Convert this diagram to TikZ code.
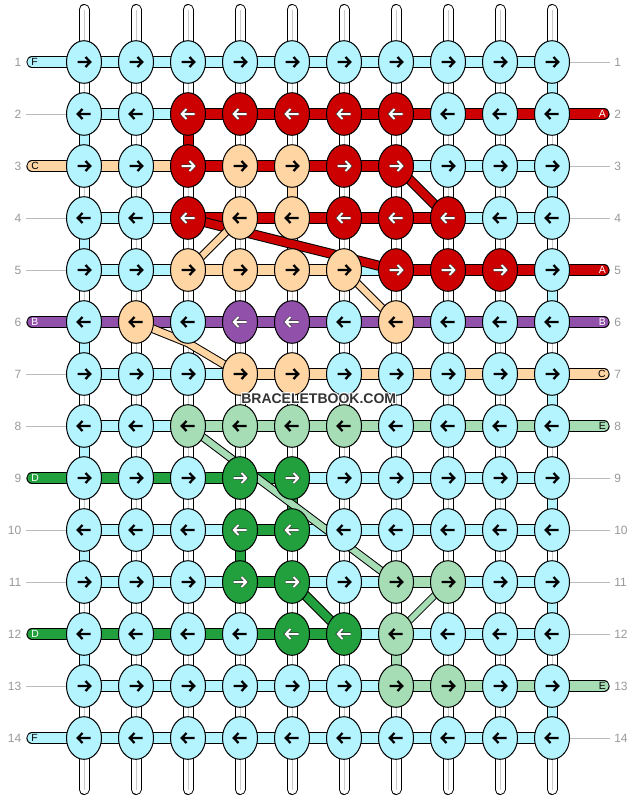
\documentclass[tikz,border=0pt]{standalone}
\usepackage{fontspec}
\setmainfont{Liberation Sans}
\usetikzlibrary{shapes.geometric}
\definecolor{bbc}{HTML}{B3F4FF}
\definecolor{bbr}{HTML}{CC0000}
\definecolor{bbp}{HTML}{FFD5A3}
\definecolor{bbu}{HTML}{9150AA}
\definecolor{bbl}{HTML}{A6DDB4}
\definecolor{bbg}{HTML}{22A03E}
\definecolor{numgray}{HTML}{999999}
\definecolor{linegray}{HTML}{BBBBBB}
\definecolor{centregray}{HTML}{C8C8C8}
\definecolor{wmark}{HTML}{333333}
\tikzset{
  knot/.style={ellipse, draw=black, line width=0.75pt, minimum width=26.25pt, minimum height=31.95pt, inner sep=0pt, outer sep=0pt},
  strout/.style={line width=8.5pt, draw=black, line cap=round},
  strin/.style={line width=7pt, line cap=round},
  bgout/.style={line width=8.25pt, draw=black, line cap=round},
  bgin/.style={line width=6.75pt, draw=white, line cap=round},
  vsegout/.style={line width=8.25pt, draw=black},
  vsegin/.style={line width=6.75pt},
  grayline/.style={draw=linegray, line width=0.75pt},
  darr/.style={draw=black, line width=1.65pt},
  larr/.style={draw=white, line width=1.5pt, preaction={draw=black!80, line width=2.4pt}},
  arr-c/.style={darr}, arr-p/.style={darr}, arr-l/.style={darr},
  arr-r/.style={larr}, arr-u/.style={larr}, arr-g/.style={larr},
  lab/.style={inner sep=0pt, font=\fontsize{7.8}{9}\selectfont},
  num/.style={inner sep=0pt, text=numgray, font=\fontsize{9}{10}\selectfont},
  wmfont/.style={inner sep=0pt, font=\bfseries\fontsize{10.5}{12}\selectfont},
}
\newcommand\bbdiag[4]{% colour, outer width, inner width, path
  \draw[line width=#2, draw=black] #4;
  \draw[line width=#3, draw=#1] #4;}
\begin{document}
\begin{tikzpicture}[x=0.75pt,y=-0.75pt]
\useasboundingbox (0,0) rectangle (636,800);
\fill[white] (0,0) rectangle (636,800);
% coordinates
\foreach \i in {1,...,14}{
  \foreach \j in {1,...,10}{
    \coordinate (p\i-\j) at ({32+52*\j},{10+52*\i});
  }
  \coordinate (L\i) at (32,{10+52*\i});
  \coordinate (R\i) at (604,{10+52*\i});
  \coordinate (GL\i) at (26,{10+52*\i});
  \coordinate (GR\i) at (610,{10+52*\i});
}
\foreach \j in {1,...,10}{
  \coordinate (T\j) at ({32+52*\j},9.5);
  \coordinate (B\j) at ({32+52*\j},789.5);
}
% background vertical strings
\foreach \j in {1,...,10}{
  \draw[bgout] (T\j) -- (B\j);
  \draw[bgin] (T\j) -- (B\j);
  \draw[draw=centregray, line width=0.75pt] (T\j) -- (B\j);
}
% coloured vertical segments
\foreach \j/\i/\k in {1/2/c,1/4/c,1/6/c,1/8/c,1/10/c,1/12/c,
  10/1/c,10/3/c,10/5/c,10/7/c,10/9/c,10/11/c,10/13/c,
  3/2/r,5/3/p,5/9/g,4/10/g,7/12/l}{
  \pgfmathtruncatemacro\ii{\i+1}
  \draw[vsegout] (p\i-\j) -- (p\ii-\j);
  \draw[vsegin, draw=bb\k] (p\i-\j) -- (p\ii-\j);
}
% horizontal strings
\foreach \i/\hs in {
  1/{c,c,c,c,c,c,c,c,c,c,n},
  2/{n,c,c,r,r,r,r,r,r,r,r},
  3/{p,p,p,r,r,r,r,c,c,c,n},
  4/{n,c,c,r,r,r,r,r,c,c,n},
  5/{n,c,c,p,p,p,c,r,r,r,r},
  6/{u,u,u,u,u,u,u,u,u,u,u},
  7/{n,c,c,c,p,p,p,p,p,p,p},
  8/{n,c,c,l,l,l,l,l,l,l,l},
  9/{g,g,g,g,g,c,c,c,c,c,n},
  10/{n,c,c,c,g,c,c,c,c,c,n},
  11/{n,c,c,c,g,c,c,l,c,c,n},
  12/{g,g,g,g,g,g,c,c,c,c,n},
  13/{n,c,c,c,c,c,c,l,l,l,l},
  14/{c,c,c,c,c,c,c,c,c,c,n}}{
  \foreach \k [count=\m] in \hs {
    \if\k n
      \ifnum\m=1 \draw[grayline] (GL\i) -- (p\i-1);\fi
      \ifnum\m=11 \draw[grayline] (p\i-10) -- (GR\i);\fi
    \else
      \ifnum\m=1
        \draw[strout] (L\i) -- (p\i-1);
        \draw[strin, draw=bb\k] (L\i) -- (p\i-1);
      \else\ifnum\m=11
        \draw[strout] (p\i-10) -- (R\i);
        \draw[strin, draw=bb\k] (p\i-10) -- (R\i);
      \else
        \pgfmathtruncatemacro\pa{\m-1}
        \draw[strout] (p\i-\pa) -- (p\i-\m);
        \draw[strin, draw=bb\k] (p\i-\pa) -- (p\i-\m);
      \fi\fi
    \fi
  }
}
% diagonal strings
\coordinate (pb) at (188,343);
\bbdiag{bbr}{7.5pt}{6pt}{(p3-7) -- (p4-8)}
\bbdiag{bbr}{7.5pt}{6pt}{(p4-3) -- (p5-7)}
\bbdiag{bbp}{6.2pt}{4.7pt}{(p5-3) -- (p4-4)}
\bbdiag{bbp}{6.2pt}{4.7pt}{(p5-6) -- (p6-7)}
\bbdiag{bbp}{6.5pt}{5pt}{(p6-2) -- (pb) -- (p7-4)}
\bbdiag{bbl}{6.2pt}{4.7pt}{(p8-3) -- (p11-7)}
\bbdiag{bbl}{5.5pt}{4pt}{(p12-7) -- (p11-8)}
\bbdiag{bbg}{7.5pt}{6pt}{(p11-5) -- (p12-6)}
% knots with arrows
\foreach \i/\ks in {
  1/{c,c,c,c,c,c,c,c,c,c},
  2/{c,c,r,r,r,r,r,c,c,c},
  3/{c,c,r,p,p,r,r,c,c,c},
  4/{c,c,r,p,p,r,r,r,c,c},
  5/{c,c,p,p,p,p,r,r,r,c},
  6/{c,p,c,u,u,c,p,c,c,c},
  7/{c,c,c,p,p,c,c,c,c,c},
  8/{c,c,l,l,l,l,c,c,c,c},
  9/{c,c,c,g,g,c,c,c,c,c},
  10/{c,c,c,g,g,c,c,c,c,c},
  11/{c,c,c,g,g,c,l,l,c,c},
  12/{c,c,c,c,g,g,l,c,c,c},
  13/{c,c,c,c,c,c,l,l,c,c},
  14/{c,c,c,c,c,c,c,c,c,c}}{
  \pgfmathtruncatemacro\dir{1-2*mod(\i+1,2)}
  \foreach \k [count=\j] in \ks {
    \node[knot, fill=bb\k] (k\i-\j) at (p\i-\j) {};
    \draw[arr-\k, shift={(k\i-\j.center)}, xscale=\dir] (-6.5,0) -- (6,0) (1.5,-5) -- (6.3,0) -- (1.5,5);
  }
}
% end labels
\node[lab, anchor=west, text=black] (lf1) at (31,62) {F};
\node[lab, anchor=west, text=black] (lc3) at (31,166) {C};
\node[lab, anchor=west, text=white] (lb6) at (31,322) {B};
\node[lab, anchor=west, text=white] (ld9) at (31,478) {D};
\node[lab, anchor=west, text=white] (ld12) at (31,634) {D};
\node[lab, anchor=west, text=black] (lf14) at (31,738) {F};
\node[lab, anchor=east, text=white] (ra2) at (606,114) {A};
\node[lab, anchor=east, text=white] (ra5) at (606,270) {A};
\node[lab, anchor=east, text=white] (rb6) at (606,322) {B};
\node[lab, anchor=east, text=black] (rc7) at (606,374) {C};
\node[lab, anchor=east, text=black] (re8) at (606,426) {E};
\node[lab, anchor=east, text=black] (re13) at (606,686) {E};
% row numbers
\foreach \i in {1,...,14}{
  \node[num, anchor=east] (nl\i) at (21.5,{10+52*\i}) {\i};
  \node[num, anchor=west] (nr\i) at (614,{10+52*\i}) {\i};
}
% watermark
\foreach \dx/\dy [count=\h] in {1/0,-1/0,0/1,0/-1,1/1,1/-1,-1/1,-1/-1}{
  \node[wmfont, text=white, opacity=0.7] (halo\h) at ({318.7+\dx},{399+\dy}) {BRACELETBOOK.COM};
}
\node[wmfont, text=wmark] (wm) at (318.7,399) {BRACELETBOOK.COM};
\end{tikzpicture}
\end{document}
